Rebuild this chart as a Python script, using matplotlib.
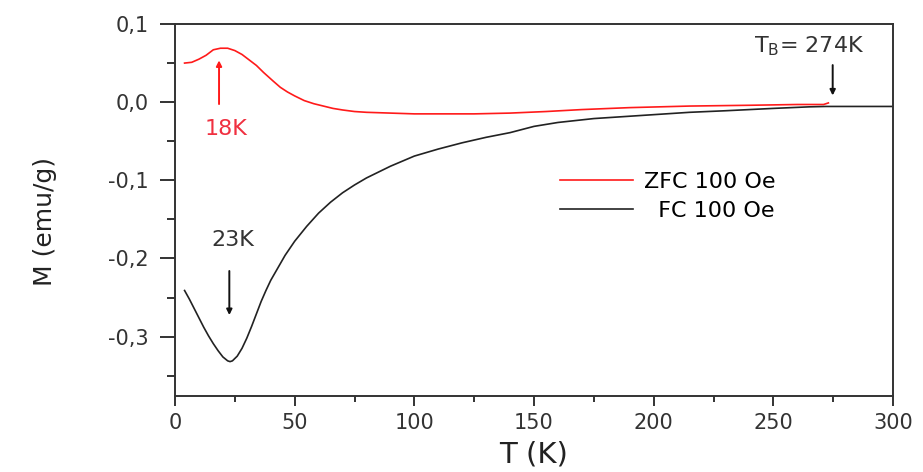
import numpy as np
from matplotlib import pyplot as plt

# ZFC curve, 100 Oe
zfc_T = [4, 7, 10, 13, 16, 19, 22, 25, 28, 31, 34, 37, 41, 44, 47, 50, 54, 58, 62,
         66, 70, 75, 80, 90, 100, 110, 125, 140, 155, 170, 190, 215, 240, 260, 271, 273]
zfc_M = [0.050, 0.051, 0.055, 0.060, 0.067, 0.069, 0.069, 0.066, 0.061, 0.054, 0.047,
         0.038, 0.027, 0.019, 0.013, 0.008, 0.002, -0.002, -0.005, -0.008, -0.010,
         -0.012, -0.013, -0.014, -0.015, -0.015, -0.015, -0.014, -0.012, -0.0095,
         -0.007, -0.005, -0.004, -0.003, -0.003, -0.001]

# FC curve, 100 Oe
fc_T = [4, 6, 8, 10, 12, 14, 16, 18, 20, 22, 23, 24, 26, 28, 30, 32, 34, 36, 38, 40,
        43, 46, 50, 55, 60, 65, 70, 75, 80, 90, 100, 110, 120, 130, 140, 150, 160,
        175, 190, 200, 215, 230, 250, 265, 272, 300]
fc_M = [-0.241, -0.252, -0.264, -0.276, -0.288, -0.299, -0.309, -0.318, -0.326, -0.331,
        -0.332, -0.331, -0.325, -0.315, -0.302, -0.287, -0.271, -0.255, -0.241, -0.228,
        -0.212, -0.196, -0.178, -0.159, -0.142, -0.128, -0.116, -0.106, -0.097, -0.082,
        -0.069, -0.060, -0.052, -0.045, -0.039, -0.031, -0.026, -0.021, -0.018, -0.016,
        -0.013, -0.011, -0.008, -0.006, -0.0055, -0.0055]

peak_zfc = 18.4
peak_fc = 22.7
t_block = 274.8

plt.rcParams['font.family'] = 'DejaVu Sans'
fig = plt.figure(figsize=(9.23, 4.72), dpi=100)
ax = fig.add_axes([175 / 923, 1 - 396 / 472, (893 - 175) / 923, (396 - 24) / 472])

ax.plot(zfc_T, zfc_M, color='#ff1a1a', lw=1.2, label='ZFC 100 Oe')
ax.plot(fc_T, fc_M, color='#222222', lw=1.2, label='  FC 100 Oe')

ax.set_xlim(0, 300)
ax.set_ylim(-0.376, 0.1)
ax.set_xticks(np.arange(0, 301, 50))
ax.set_xticks(np.arange(25, 300, 50), minor=True)
ax.set_yticks([-0.3, -0.2, -0.1, 0.0, 0.1])
ax.set_yticklabels(['-0,3', '-0,2', '-0,1', '0,0', '0,1'])
ax.set_yticks([-0.35, -0.25, -0.15, -0.05, 0.05], minor=True)

for s in ax.spines.values():
    s.set_linewidth(1.4)
    s.set_color('#333333')
ax.tick_params(axis='y', which='major', direction='out', length=11, width=1.4,
               pad=8, labelsize=15, colors='#333333')
ax.tick_params(axis='y', which='minor', direction='out', length=6, width=1.4, colors='#333333')
ax.tick_params(axis='x', which='major', direction='out', length=7, width=1.4,
               pad=5, labelsize=15, colors='#333333')
ax.tick_params(axis='x', which='minor', direction='out', length=4, width=1.4, colors='#333333')

ax.set_xlabel('T (K)', fontsize=21, color='#222222', labelpad=6)
ax.set_ylabel('M (emu/g)', fontsize=18, color='#222222')
ax.yaxis.set_label_coords(-0.164, 0.468)

arrow_red = dict(arrowstyle='-|>', color='#ff1a1a', lw=1.4, mutation_scale=8)
arrow_blk = dict(arrowstyle='-|>', color='#111111', lw=1.4, mutation_scale=8)
ax.annotate('', xy=(peak_zfc, 0.057), xytext=(peak_zfc, -0.006), arrowprops=arrow_red)
ax.annotate('', xy=(peak_fc, -0.276), xytext=(peak_fc, -0.2125), arrowprops=arrow_blk)
ax.annotate('', xy=(t_block, 0.005), xytext=(t_block, 0.051), arrowprops=arrow_blk)

ax.text(21.5, -0.034, '18K', color='#f03040', fontsize=16, ha='center', va='center')
ax.text(24, -0.177, '23K', color='#333333', fontsize=16, ha='center', va='center')
ax.text(265, 0.072, r'T$_{\mathrm{B}}$= 274K', color='#333333', fontsize=16,
        ha='center', va='center')

ax.legend(loc='upper left', bbox_to_anchor=(560 / 923, 1 - 172 / 472),
          bbox_transform=fig.transFigure, frameon=False, fontsize=16,
          handlelength=3.3, handletextpad=0.5, labelspacing=0.4, borderpad=0,
          borderaxespad=0)

fig.savefig('out.png', dpi=100)
